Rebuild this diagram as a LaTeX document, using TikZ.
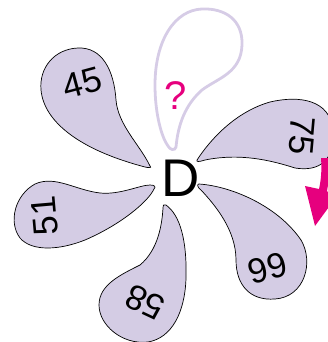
\documentclass[tikz,border=0pt]{standalone}
\usepackage{fontspec}
\setmainfont{Liberation Sans}
\definecolor{petal}{RGB}{212,204,228}
\definecolor{petalline}{RGB}{214,204,230}
\definecolor{mag}{RGB}{230,0,126}
\tikzset{
  petalshape/.style={fill=petal, draw=black, line width=0.7pt},
  emptypetal/.style={draw=petalline, line width=2.8pt},
  numlabel/.style={font=\fontsize{35}{35}\selectfont, inner sep=0pt},
}
\begin{document}
\begin{tikzpicture}[x=1pt,y=-1pt]
\clip (0,0) rectangle (328,342);
% petal 45
\draw[petalshape] (150,166) .. controls (140,145) and (118,125) .. (116,100)
  .. controls (114,70) and (102,47) .. (78,48)
  .. controls (54,49) and (39,68) .. (41,90)
  .. controls (44,122) and (80,150) .. (145,167)
  .. controls (149,168) and (152,168) .. (150,166) -- cycle;
% petal 51
\draw[petalshape] (154,189) .. controls (148,202) and (120,225) .. (85,240)
  .. controls (60,250) and (32,252) .. (20,238)
  .. controls (8,222) and (15,195) .. (35,184)
  .. controls (55,175) and (75,190) .. (100,193)
  .. controls (120,195) and (140,185) .. (150,185)
  .. controls (155,185) and (156,187) .. (154,189) -- cycle;
% petal 58
\draw[petalshape] (166,205) .. controls (180,215) and (187,240) .. (186,278)
  .. controls (185,312) and (172,338) .. (148,342)
  .. controls (122,345) and (99,325) .. (99,305)
  .. controls (99,285) and (120,275) .. (140,265)
  .. controls (158,250) and (162,225) .. (163,208)
  .. controls (163,205) and (164,204) .. (166,205) -- cycle;
% petal 66
\draw[petalshape] (199,184) .. controls (230,186) and (277,205) .. (301,240)
  .. controls (314,262) and (305,297) .. (275,299)
  .. controls (250,301) and (236,285) .. (236,260)
  .. controls (236,230) and (215,205) .. (201,190)
  .. controls (197,187) and (197,184) .. (199,184) -- cycle;
% petal 75
\draw[petalshape] (197,160) .. controls (210,140) and (235,112) .. (270,102)
  .. controls (300,95) and (330,100) .. (333,130)
  .. controls (335,160) and (320,172) .. (295,168)
  .. controls (270,160) and (240,153) .. (205,160)
  .. controls (199,162) and (196,162) .. (197,160) -- cycle;
% empty petal
\draw[emptypetal] (176,147) .. controls (178,125) and (185,105) .. (202,90)
  .. controls (218,78) and (241,73) .. (242,45)
  .. controls (243,20) and (225,8) .. (202,9)
  .. controls (175,10) and (155,40) .. (155,85)
  .. controls (155,115) and (162,138) .. (168,146)
  .. controls (170,150) and (175,151) .. (176,147) -- cycle;
% arrow
\fill[mag] (321,158) .. controls (322,170) and (321,180) .. (319,189)
  -- (305,186) -- (315,226) -- (334,200) -- (327,191)
  .. controls (329,180) and (330,170) .. (330,158) -- cycle;
% labels
\node[numlabel, rotate=15] (n45) at (82,83) {45};
\node[numlabel, rotate=95] (n51) at (45,216) {51};
\node[numlabel, rotate=155] (n58) at (145,302) {58};
\node[numlabel, rotate=195] (n66) at (268,268) {66};
\node[numlabel, rotate=-95] (n75) at (302,136) {75};
\node[font=\fontsize{40}{40}\selectfont, text=mag, inner sep=0pt] (q) at (176,96) {?};
\node[font=\fontsize{53}{53}\selectfont, inner sep=0pt] (D) at (181,178) {D};
\end{tikzpicture}
\end{document}
